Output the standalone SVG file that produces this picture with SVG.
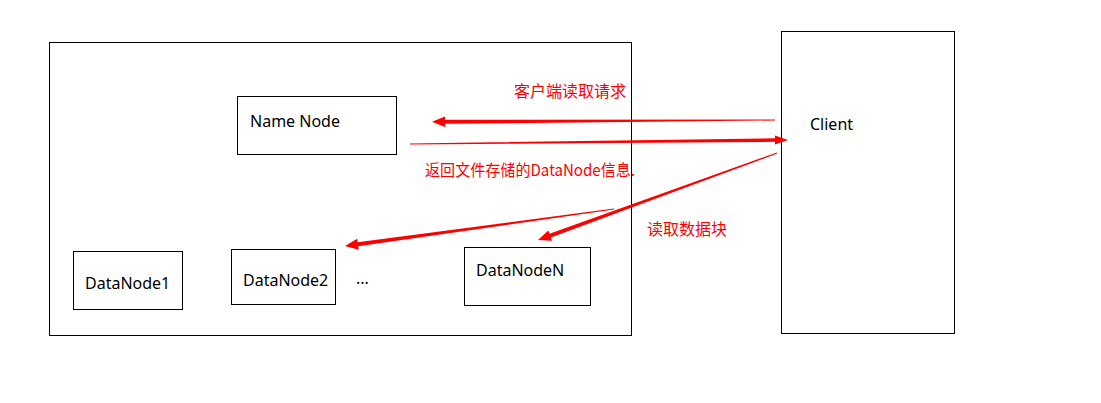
<svg xmlns="http://www.w3.org/2000/svg" width="1101" height="403" viewBox="0 0 1101 403">
<style>
.box{fill:#fff;stroke:#000;stroke-width:1}
.t{font-family:"Noto Sans","Noto Sans CJK SC",sans-serif;font-size:16px;fill:#000}
.r{font-family:"Noto Sans CJK SC","Noto Sans",sans-serif;font-size:16px;fill:#ff0000}
.arr{fill:#ff0000;stroke:none}
</style>
<rect width="1101" height="403" fill="#fff"/>
<g id="cluster"><rect class="box" x="49.5" y="42.5" width="582" height="293"/></g>
<g id="namenode"><rect class="box" x="237.5" y="96.5" width="159" height="58"/><text class="t" x="250" y="127">Name Node</text></g>
<g id="client"><rect class="box" x="781.5" y="31.5" width="173" height="302"/><text class="t" x="810" y="130">Client</text></g>
<g id="datanode1"><rect class="box" x="73.5" y="251.5" width="109" height="58"/><text class="t" x="85" y="289">DataNode1</text></g>
<g id="datanode2"><rect class="box" x="231.5" y="249.5" width="104" height="55"/><text class="t" x="243" y="286">DataNode2</text></g>
<g id="dots"><text class="t" x="356" y="284">...</text></g>
<g id="datanodeN"><rect class="box" x="464.5" y="247.5" width="126" height="58"/><text class="t" x="476" y="276">DataNodeN</text></g>
<g id="connectors">
<polygon class="arr" points="775,119.5 445,119.8 445,116.5 432,121.8 445,127 445,123.8 775,120.5"/>
<polygon class="arr" points="410,143.5 775,138.3 775,135.5 788,140 775,144.5 775,141.8 410,144.5"/>
<polygon class="arr" points="613.9,208.5 357.6,242.2 357.2,238.8 345,246 358.7,249.7 358.2,246.2 614.1,209.5"/>
<polygon class="arr" points="776.8,152.5 549.5,233.7 548.3,230.4 538,240 552.1,240.7 550.9,237.4 777.2,153.5"/>
</g>
<g id="labels">
<text class="r" x="514" y="97">客户端读取请求</text>
<text class="r" x="425" y="176" textLength="210" lengthAdjust="spacingAndGlyphs">返回文件存储的DataNode信息.</text>
<text class="r" x="647" y="235">读取数据块</text>
</g>
</svg>
